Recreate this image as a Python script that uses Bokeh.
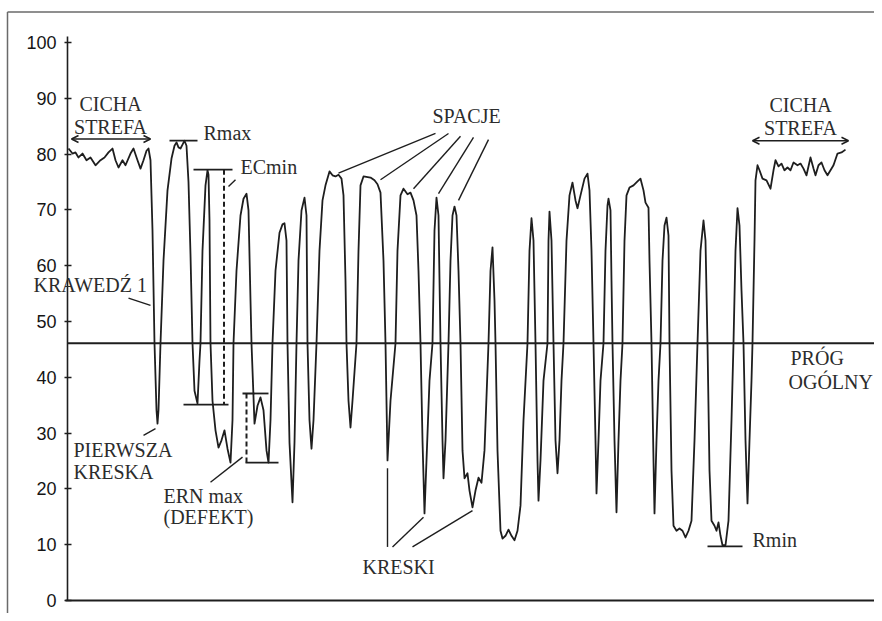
from bokeh.plotting import figure
from bokeh.models import Range1d, FixedTicker, Label, Span, Arrow, OpenHead, LinearAxis
from bokeh.embed import file_html
from bokeh.resources import INLINE

# ---------------- data (scan position, reflectance %) ----------------
scan_pos = [68, 72, 75, 78, 82, 86, 90, 95, 100, 104, 108, 112, 115, 118, 122, 125, 130, 133, 137, 140,
            143, 146, 148, 150, 152, 154, 156, 157, 158, 160, 163, 167, 171, 174, 176, 178, 180, 182, 184, 186,
            188, 190, 192, 194, 197, 199, 200, 202, 205, 207, 208, 209, 210, 212, 215, 218, 221, 224, 227, 230,
            232, 233, 236, 240, 243, 246, 248, 250, 251, 254, 257, 260, 263, 266, 268, 270, 272, 275, 279, 282,
            284, 286, 287, 289, 292, 294, 296, 298, 301, 304, 306, 307, 309, 311, 313, 316, 319, 322, 325, 329,
            332, 335, 338, 341, 343, 345, 346, 348, 350, 352, 356, 358, 360, 363, 370, 374, 377, 380, 383, 385,
            387, 390, 395, 397, 400, 403, 407, 410, 413, 416, 418, 420, 422, 424, 426, 429, 432, 434, 436, 438,
            440, 442, 443, 445, 448, 450, 452, 454, 456, 458, 460, 462, 464, 467, 469, 472, 475, 478, 481, 484,
            488, 490, 492, 494, 495, 497, 500, 502, 505, 508, 511, 514, 517, 520, 523, 527, 529, 531, 533, 535,
            537, 538, 540, 543, 547, 548, 549, 551, 553, 555, 557, 559, 561, 563, 566, 569, 572, 575, 577, 580,
            584, 587, 589, 591, 593, 595, 596, 598, 600, 603, 605, 607, 608, 610, 611, 612, 614, 616, 618, 620,
            622, 624, 626, 629, 633, 637, 640, 643, 645, 648, 649, 651, 653, 654, 656, 658, 660, 662, 664, 666,
            668, 669, 671, 673, 676, 679, 682, 685, 688, 691, 694, 697, 700, 703, 705, 707, 709, 711, 714, 716,
            718, 720, 722, 725, 728, 731, 733, 735, 737, 739, 741, 743, 745, 747, 749, 751, 752, 754, 755, 757,
            759, 762, 766, 770, 773, 775, 778, 781, 784, 787, 790, 793, 797, 800, 803, 806, 810, 813, 815, 818,
            821, 824, 827, 830, 833, 837, 841, 845]
reflectance = [81.0, 80.1, 80.3, 79.4, 80.1, 78.9, 79.4, 78.0, 78.9, 79.4, 80.3, 81.0, 78.9, 77.6, 78.9, 78.0, 80.1, 81.0, 78.9, 77.4,
               78.9, 80.6, 81.0, 78.9, 66.3, 46.1, 34.1, 31.7, 34.1, 46.1, 60.9, 73.5, 79.2, 81.5, 82.1, 81.2, 81.0, 81.7, 82.4, 81.5,
               75.0, 62.0, 46.1, 37.6, 35.3, 43.0, 46.1, 62.7, 74.4, 77.1, 76.3, 68.1, 46.1, 35.8, 30.5, 27.4, 28.7, 30.5, 27.2, 24.7,
               32.3, 46.1, 59.1, 69.0, 72.0, 72.9, 69.9, 53.8, 46.1, 31.7, 34.9, 36.4, 34.1, 26.9, 24.7, 32.3, 46.1, 59.1, 65.9, 67.4,
               67.6, 64.5, 46.1, 28.3, 17.6, 28.3, 46.1, 60.9, 69.9, 72.2, 69.0, 46.1, 32.3, 27.2, 32.3, 46.1, 62.7, 71.7, 74.4, 76.9,
               76.2, 76.0, 76.3, 75.6, 72.6, 57.3, 46.1, 35.8, 31.0, 35.8, 46.1, 62.7, 74.4, 76.0, 75.8, 75.3, 74.6, 73.1, 60.9, 46.1,
               25.1, 35.8, 46.1, 62.7, 72.6, 73.8, 72.8, 73.1, 71.7, 69.0, 59.1, 46.1, 28.7, 15.6, 25.1, 39.4, 46.1, 66.3, 72.2, 69.0,
               46.1, 28.7, 21.9, 28.7, 46.1, 60.9, 69.0, 70.6, 69.0, 59.1, 46.1, 26.9, 21.9, 22.8, 19.7, 16.7, 19.7, 22.0, 21.1, 26.9,
               46.1, 59.1, 63.3, 53.8, 46.1, 26.9, 12.5, 11.1, 11.6, 12.7, 11.6, 10.8, 12.5, 17.0, 32.3, 46.1, 62.7, 68.5, 64.5, 46.1,
               25.1, 17.9, 25.1, 39.4, 46.1, 64.5, 69.7, 64.5, 46.1, 28.7, 22.8, 28.7, 39.4, 46.1, 64.5, 72.6, 74.9, 71.7, 70.3, 72.6,
               75.6, 76.5, 73.5, 62.7, 46.1, 28.7, 19.2, 28.7, 39.4, 46.1, 62.7, 70.8, 72.0, 69.9, 57.3, 46.1, 28.7, 15.8, 28.7, 39.4,
               46.1, 64.5, 72.6, 74.0, 74.4, 75.1, 75.6, 73.5, 71.3, 70.4, 60.9, 46.1, 25.1, 15.6, 28.7, 39.4, 46.1, 60.9, 67.2, 68.6,
               65.4, 46.1, 23.3, 13.4, 12.5, 12.9, 12.5, 11.3, 12.5, 14.3, 28.7, 46.1, 62.7, 68.1, 64.5, 46.1, 23.3, 14.3, 13.4, 12.5,
               14.0, 11.6, 9.9, 9.9, 14.3, 32.3, 46.1, 62.7, 70.3, 67.2, 55.6, 46.1, 28.7, 17.4, 28.7, 39.4, 46.1, 64.5, 75.3, 78.0,
               77.1, 75.6, 75.3, 73.8, 77.1, 78.9, 77.8, 78.3, 77.1, 77.6, 77.1, 78.5, 78.0, 78.3, 77.4, 76.2, 79.4, 77.4, 76.2, 78.0,
               78.5, 77.1, 76.2, 77.1, 78.0, 80.1, 80.3, 80.8]

y_ticks = [0, 10, 20, 30, 40, 50, 60, 70, 80, 90, 100]

threshold = 46.1          # PRÓG OGÓLNY
rmax_level = 82.4
ecmin_top, ecmin_bottom = 77.2, 35.1
ern_top, ern_bottom = 37.1, 24.7
rmin_level = 9.7

SERIF = "Liberation Serif"
SANS = "Liberation Sans"
INK = "#1e1e1e"
TXT = "#2c2c2c"

W, H = 874, 613
PX_PER_UNIT = 5.58
Y_ZERO_PX = 600          # pixel row of reflectance 0
X_AXIS_POS = 67          # scan position of the reflectance axis

p = figure(width=W, height=H, output_backend="svg", toolbar_location=None,
           x_range=Range1d(0, W),
           y_range=Range1d((Y_ZERO_PX - H) / PX_PER_UNIT, Y_ZERO_PX / PX_PER_UNIT),
           x_axis_location=None, y_axis_location=None,
           min_border=0, min_border_left=0, min_border_right=0, min_border_top=0, min_border_bottom=0,
           background_fill_color="white", border_fill_color="white", outline_line_color=None)
p.grid.visible = False

# axes drawn at fixed data locations
yax = LinearAxis(fixed_location=X_AXIS_POS, bounds=(0, 101), ticker=FixedTicker(ticks=y_ticks))
yax.axis_line_color = INK
yax.axis_line_width = 1.6
yax.major_tick_line_color = INK
yax.major_tick_line_width = 1.4
yax.major_tick_in = 4
yax.major_tick_out = 3
yax.minor_tick_line_color = None
yax.major_label_standoff = 8
yax.major_label_text_font = SANS
yax.major_label_text_font_size = "18px"
yax.major_label_text_color = "#151515"
p.add_layout(yax, "left")

xax = LinearAxis(fixed_location=0, bounds=(65, W), ticker=FixedTicker(ticks=[]))
xax.axis_line_color = INK
xax.axis_line_width = 1.8
xax.major_tick_line_color = None
xax.minor_tick_line_color = None
xax.major_label_text_font_size = "0px"
xax.major_label_text_color = None
p.add_layout(xax, "below")

# frame lines of the original figure
p.segment(x0=[7, 7], x1=[7, W], y0=[105.45, 105.45], y1=[-3, 105.45],
          line_color="#6a6a6a", line_width=1.5)

# threshold line
p.segment(x0=[X_AXIS_POS], x1=[W], y0=[threshold], y1=[threshold], line_color=INK, line_width=1.8)

# reflectance profile
p.line(scan_pos, reflectance, line_color=INK, line_width=1.8, line_join="round")

# Rmax / ECmin / ERN / Rmin markers
p.segment(x0=[169, 193, 183, 242, 245, 707], x1=[197, 232, 228, 268, 278, 742],
          y0=[rmax_level, ecmin_top, ecmin_bottom, ern_top, ern_bottom, rmin_level],
          y1=[rmax_level, ecmin_top, ecmin_bottom, ern_top, ern_bottom, rmin_level],
          line_color=INK, line_width=1.8)
p.segment(x0=[223.5, 246], x1=[223.5, 246], y0=[ecmin_top, ern_top], y1=[ecmin_bottom, ern_bottom],
          line_color=INK, line_width=2, line_dash="5 3")

# pointer lines
ptr_x0 = [128, 143, 228, 210, 435, 448, 460, 473, 488, 387, 392, 412]
ptr_x1 = [150, 155, 235, 242, 338, 380, 413, 438, 458, 387, 423, 472]
ptr_y0 = [54.2, 29.6, 74.2, 21.2, 83.7, 83.7, 83.2, 83.0, 82.6, 9.6, 9.6, 9.6]
ptr_y1 = [52.9, 30.8, 75.4, 25.7, 76.6, 75.4, 73.8, 72.9, 71.7, 23.7, 14.9, 16.1]
p.segment(x0=ptr_x0, x1=ptr_x1, y0=ptr_y0, y1=ptr_y1, line_color=INK, line_width=1.4)

# quiet-zone arrows
for xs, xe, yy in [(71, 150, 82.7), (752, 848, 82.4)]:
    p.add_layout(Arrow(x_start=xs, y_start=yy, x_end=xe, y_end=yy, line_color=INK, line_width=1.5,
                       start=OpenHead(size=7, line_color=INK, line_width=1.5),
                       end=OpenHead(size=7, line_color=INK, line_width=1.5)))

# texts
labels = [
    ("CICHA", 110, 88.9, "center"), ("STREFA", 110, 84.8, "center"),
    ("CICHA", 800, 88.8, "center"), ("STREFA", 800, 84.6, "center"),
    ("Rmax", 203, 83.7, "left"), ("ECmin", 240, 77.6, "left"),
    ("KRAWEDŹ 1", 33, 56.5, "left"),
    ("PIERWSZA", 73, 26.9, "left"), ("KRESKA", 73, 23.0, "left"),
    ("ERN max", 163, 18.8, "left"), ("(DEFEKT)", 163, 14.9, "left"),
    ("SPACJE", 432, 86.9, "left"), ("KRESKI", 362, 6.0, "left"),
    ("PRÓG", 790, 43.4, "left"), ("OGÓLNY", 788, 39.1, "left"),
    ("Rmin", 752, 10.8, "left"),
]
for t, x, y, al in labels:
    p.add_layout(Label(x=x, y=y, text=t, text_font=SERIF, text_font_size="20px",
                       text_color=TXT, text_align=al, text_baseline="middle"))

open("out.html", "w").write(file_html(p, INLINE))
